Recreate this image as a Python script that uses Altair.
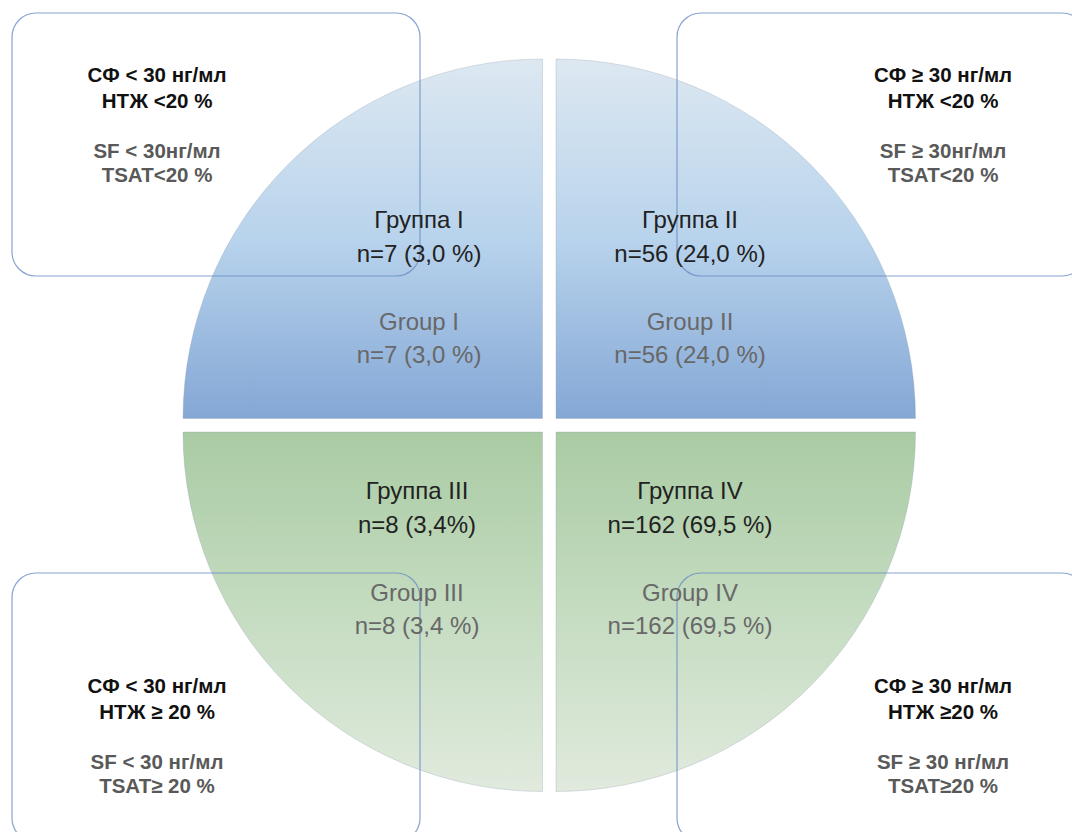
import altair as alt
import pandas as pd

# ---------------- data ----------------
group_ru = ["Группа I", "Группа II", "Группа III", "Группа IV"]
group_en = ["Group I", "Group II", "Group III", "Group IV"]
n_ru = ["n=7 (3,0 %)", "n=56 (24,0 %)", "n=8 (3,4%)", "n=162 (69,5 %)"]
n_en = ["n=7 (3,0 %)", "n=56 (24,0 %)", "n=8 (3,4 %)", "n=162 (69,5 %)"]

cond_ru_1 = ["СФ < 30 нг/мл", "СФ ≥ 30 нг/мл", "СФ < 30 нг/мл", "СФ ≥ 30 нг/мл"]
cond_ru_2 = ["НТЖ  <20 %", "НТЖ  <20 %", "НТЖ  ≥ 20 %", "НТЖ  ≥20 %"]
cond_en_1 = ["SF < 30нг/мл", "SF ≥ 30нг/мл", "SF < 30 нг/мл", "SF ≥ 30 нг/мл"]
cond_en_2 = ["TSAT<20 %", "TSAT<20 %", "TSAT≥ 20 %", "TSAT≥20 %"]

# ---------------- layout (order: I top-left, II top-right, III bottom-left, IV bottom-right) ----
W, H = 1072, 832
R = 359.5
quad_cx = [542.5, 556, 542.5, 556]
quad_cy = [418.5, 418.5, 432, 432]
quad_t0 = [4.71238898, 0.0, 3.14159265, 1.57079633]
quad_t1 = [6.28318531, 1.57079633, 4.71238898, 3.14159265]

box_x0 = [12, 677, 12, 677]
box_x1 = [420, 1086, 420, 1086]
box_y0 = [13, 13, 573, 573]
box_y1 = [276, 276, 842, 842]

grp_x = [419, 690, 417, 690]
grp_y_top = [221, 221, 492, 492]
grp_dy = [0, 34, 102, 135]

cond_x = [157, 943, 157, 943]
cond_y_top = [76, 76, 687, 687]
cond_dy = [0, 26, 76, 100]

xs = alt.Scale(domain=[0, W], range=[0, W])
ys = alt.Scale(domain=[0, H], range=[0, H])

# quarters
quads = pd.DataFrame({"cx": quad_cx, "cy": quad_cy, "t0": quad_t0, "t1": quad_t1,
                      "grp": group_ru})

blue = alt.Gradient(gradient="linear", x1=0, x2=0, y1=0, y2=1, stops=[
    alt.GradientStop(color="#dde8f1", offset=0),
    alt.GradientStop(color="#b8d3ec", offset=0.5),
    alt.GradientStop(color="#84a7d5", offset=1)])
green = alt.Gradient(gradient="linear", x1=0, x2=0, y1=0, y2=1, stops=[
    alt.GradientStop(color="#a9cba3", offset=0),
    alt.GradientStop(color="#c5dcc1", offset=0.5),
    alt.GradientStop(color="#e0eadd", offset=1)])

def quad_layer(rows, fill):
    return alt.Chart(quads.iloc[rows]).mark_arc(
        radius=R, fill=fill, stroke="#8e9cae", strokeWidth=1, strokeOpacity=0.3
    ).encode(
        x=alt.X("cx:Q", scale=xs, axis=None),
        y=alt.Y("cy:Q", scale=ys, axis=None),
        theta=alt.Theta("t0:Q", scale=None),
        theta2="t1:Q",
    )

top_q = quad_layer([0, 1], blue)
bot_q = quad_layer([2, 3], green)

# boxes
boxes = pd.DataFrame({"x0": box_x0, "x1": box_x1, "y0": box_y0, "y1": box_y1})
box_layer = alt.Chart(boxes).mark_rect(
    cornerRadius=24, fillOpacity=0, stroke="#6a8cc6", strokeWidth=1.2, strokeOpacity=0.8
).encode(
    x=alt.X("x0:Q", scale=xs, axis=None), x2="x1:Q",
    y=alt.Y("y0:Q", scale=ys, axis=None), y2="y1:Q",
)

# group labels
g_rows = []
for i in range(4):
    lines = [(group_ru[i], "#222222"), (n_ru[i], "#222222"),
             (group_en[i], "#686868"), (n_en[i], "#686868")]
    for j, (t, c) in enumerate(lines):
        g_rows.append({"x": grp_x[i], "y": grp_y_top[i] + grp_dy[j], "t": t, "c": c})
gdf = pd.DataFrame(g_rows)
grp_text = alt.Chart(gdf).mark_text(
    font="Liberation Sans", fontSize=24, align="center", baseline="middle"
).encode(
    x=alt.X("x:Q", scale=xs, axis=None), y=alt.Y("y:Q", scale=ys, axis=None),
    text="t:N", color=alt.Color("c:N", scale=None),
)

# condition labels
c_rows = []
for i in range(4):
    lines = [(cond_ru_1[i], "#111111"), (cond_ru_2[i], "#111111"),
             (cond_en_1[i], "#595959"), (cond_en_2[i], "#595959")]
    for j, (t, c) in enumerate(lines):
        c_rows.append({"x": cond_x[i], "y": cond_y_top[i] + cond_dy[j], "t": t, "c": c})
cdf = pd.DataFrame(c_rows)
cond_text = alt.Chart(cdf).mark_text(
    font="Liberation Sans", fontSize=20.5, fontWeight="bold", align="center", baseline="middle"
).encode(
    x=alt.X("x:Q", scale=xs, axis=None), y=alt.Y("y:Q", scale=ys, axis=None),
    text="t:N", color=alt.Color("c:N", scale=None),
)

chart = alt.layer(top_q, bot_q, box_layer, grp_text, cond_text).properties(
    width=W, height=H, padding=0, autosize=alt.AutoSizeParams(type="none"),
    background="white",
).configure_view(stroke=None)

chart.save("out.html", embed_options={"renderer": "svg", "actions": False})
